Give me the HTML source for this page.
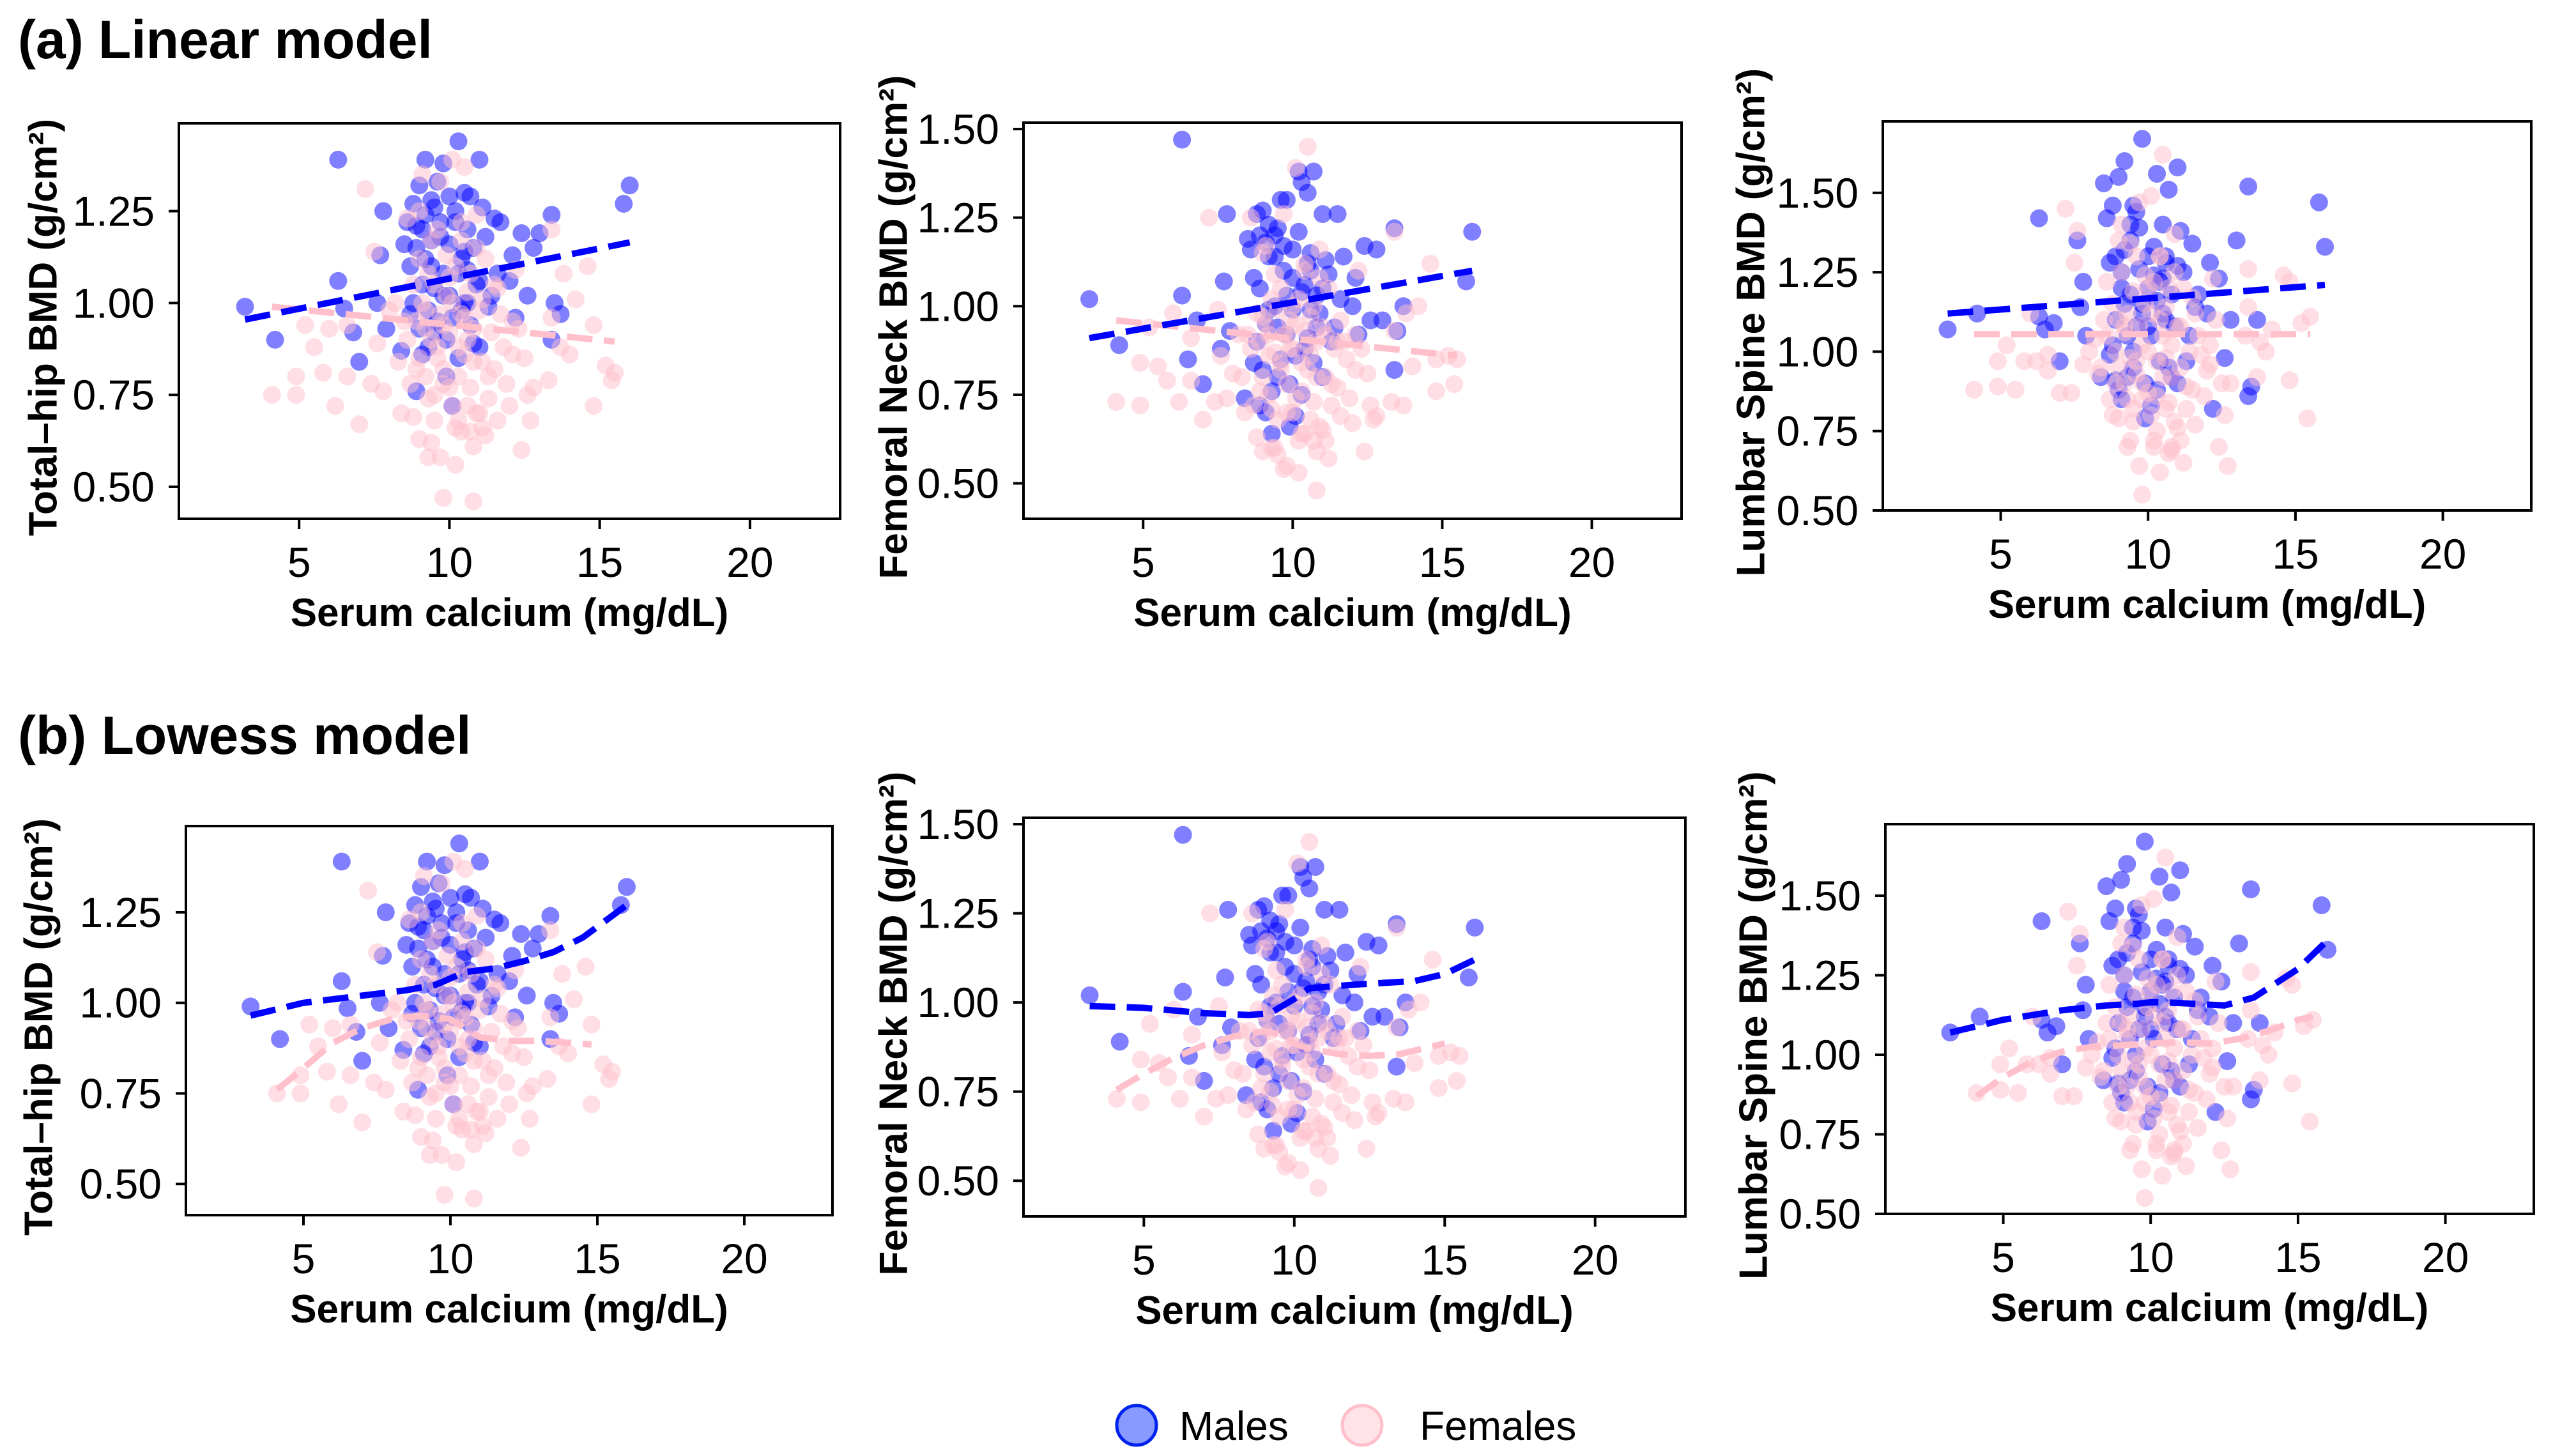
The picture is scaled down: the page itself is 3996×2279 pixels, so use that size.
<!DOCTYPE html>
<html><head><meta charset="utf-8"><style>
html,body{margin:0;padding:0;background:#fff;}
svg{display:block;font-family:"Liberation Sans",Arial,sans-serif;}
</style></head><body>
<svg id="fig" width="3996" height="2279" viewBox="0 0 3996 2279" xmlns="http://www.w3.org/2000/svg">
<rect width="3996" height="2279" fill="#fff"/>
<text x="28" y="91" font-size="84" font-weight="bold">(a) Linear model</text>
<text x="28" y="1180" font-size="84" font-weight="bold">(b) Lowess model</text>
<g id="panels"></g>
<g>
<circle cx="1779" cy="2231" r="31" fill="#8899ff" stroke="#0022ee" stroke-width="5"/>
<text x="1846" y="2254" font-size="64">Males</text>
<circle cx="2132" cy="2231" r="31" fill="#ffe3e8" stroke="#ffc0cb" stroke-width="5"/>
<text x="2222" y="2254" font-size="64">Females</text>
</g>
</svg>
<script>
// shared subject data (serum calcium, BMD by site)
const maleCa = [3.2,4.2,6.3,6.3,6.5,7.0,6.8,7.6,7.8,7.7,7.9,8.4,8.5,8.6,8.7,8.8,8.9,8.9,9.0,9.1,9.1,9.2,9.2,9.3,9.4,9.5,9.5,9.6,9.7,9.8,9.8,9.9,10.0,10.0,10.1,10.2,10.3,10.3,10.4,10.5,10.5,10.6,10.7,10.8,11.0,11.0,11.1,11.3,11.5,11.6,12.1,12.2,12.4,12.6,12.8,13.0,13.4,13.4,13.5,13.7,15.8,16.0,
 8.7,8.8,8.9,9.0,9.1,9.2,9.3,9.4,9.5,9.6,9.7,9.8,9.9,10.0,10.1,10.2,10.3,10.4,10.5,10.6,10.7,10.8,10.9,11.0,11.2,11.4,11.7,12.0,9.4,10.6];
const maleTH = [.99,.90,1.39,1.06,.985,.84,.92,1.00,1.25,1.13,.93,.87,1.16,1.22,.97,1.27,1.21,.76,1.32,1.05,.86,1.39,1.24,.98,1.10,1.26,.92,1.33,1.18,1.38,1.02,.80,1.29,1.02,.72,1.22,1.44,1.08,.98,1.30,1.14,1.00,1.29,.89,1.39,1.06,1.26,.99,1.23,1.08,1.13,.96,1.19,1.02,1.15,1.19,1.24,.90,1.00,.97,1.27,1.32,
 1.10,1.00,1.15,.93,1.20,1.12,.88,1.28,1.04,.95,1.22,1.08,.90,1.16,.96,1.25,.85,1.12,1.00,1.20,.94,1.15,1.05,.88,1.18,1.02,1.22,1.06,1.17,1.09];
const maleFN = [1.02,.89,1.47,1.03,.85,.78,.96,.88,1.26,1.07,.93,.74,1.19,1.16,.84,1.26,1.20,.72,1.27,.95,.70,1.23,1.14,.64,1.00,1.22,.80,1.30,1.10,1.30,.92,.66,1.16,.99,.69,1.38,1.35,1.04,.88,1.32,1.12,.99,1.38,.94,1.26,1.05,1.13,.90,1.26,1.02,1.08,.92,1.17,.96,1.16,.96,1.22,.82,.93,1.00,1.07,1.21,
 1.08,.90,1.05,.82,1.18,.99,.76,1.20,.94,.85,1.17,1.03,.78,1.08,.86,1.21,.75,1.06,.91,1.10,.84,1.03,.98,.80,1.09,.94,1.14,1.00,1.14,1.15];
const maleLS = [1.07,1.12,1.42,1.11,1.07,.97,1.09,1.35,1.22,1.14,1.05,.92,1.53,1.42,.99,1.46,1.30,.91,1.55,1.20,.85,1.60,1.32,1.05,1.18,1.46,.95,1.44,1.39,1.67,1.12,.79,1.30,1.08,.83,1.24,1.56,1.16,.97,1.40,1.23,1.10,1.51,.92,1.58,1.27,1.38,.97,1.34,1.14,1.28,.82,1.23,.98,1.10,1.35,1.52,.86,.89,1.10,1.47,1.33,
 1.28,1.02,1.10,.88,1.25,1.15,.92,1.35,1.00,1.08,1.26,1.15,.90,1.20,1.05,1.33,.88,1.22,1.12,1.30,.95,1.18,1.08,.90,1.25,1.05,1.18,1.12,1.40,1.28];
const femaleCa = [4.1,4.9,4.9,5.2,5.5,5.8,6.0,6.2,6.6,6.6,7.0,7.2,7.4,7.5,7.6,7.8,8.0,8.2,8.4,8.6,8.8,8.9,9.0,9.0,9.1,9.2,9.3,9.3,9.4,9.5,9.5,9.6,9.7,9.7,9.8,9.8,9.9,10.0,10.1,10.1,10.2,10.2,10.3,10.4,10.4,10.5,10.5,10.6,10.7,10.7,10.8,10.8,10.9,11.0,11.1,11.2,11.3,11.5,11.6,11.8,12.0,12.1,12.2,12.4,12.5,12.7,12.8,13.3,13.4,13.4,13.7,13.8,14.0,14.2,14.6,14.8,14.8,15.2,15.4,15.5,
 8.6,8.7,8.8,8.9,9.0,9.1,9.2,9.3,9.4,9.5,9.6,9.7,9.8,9.9,10.0,10.1,10.2,10.3,10.4,10.5,10.6,10.7,10.8,10.9,11.0,11.1,11.2,11.3,11.4,11.5,11.7,11.9,12.1,12.3,9.0,9.4,9.6,10.0,10.3,10.6,10.9,11.1,9.2,9.8,10.4,10.8,8.5,11.6,12.6,8.3];
const femaleTH = [.75,.75,.80,.94,.88,.81,.93,.72,.80,.94,.67,1.31,.78,1.14,.89,.76,.98,1.00,.70,1.23,.69,.82,1.12,.63,1.35,.93,.58,.74,1.17,1.05,.68,.85,1.33,.58,.47,.94,1.13,.77,1.39,1.00,.56,.66,.88,1.17,.65,1.37,.96,.72,1.08,.65,.46,.84,1.24,.70,1.01,.64,.80,1.05,.68,.88,.72,.95,1.09,.60,.85,.68,.77,.79,.96,1.20,.88,1.08,.86,1.01,1.10,.72,.94,.83,.79,.81,
 .90,.78,1.05,.95,.85,1.00,.80,1.08,.90,.75,1.20,.97,.82,1.02,.92,.72,1.10,.80,.97,.86,1.03,.77,.93,.70,.98,.84,1.12,.74,.92,.82,.97,.78,.86,.93,1.25,.62,.88,1.07,.68,.90,1.15,.66,.98,.78,1.22,.61,.95,1.04,.75,.84];
const femaleFN = [.73,.72,.84,.94,.83,.79,.98,.73,.79,.91,.68,1.25,.73,.99,.86,.74,.81,.92,.70,1.25,.63,.76,.97,.59,1.17,.86,.60,.71,1.09,.99,.58,.82,1.26,.54,.55,.92,.88,.70,1.39,.95,.53,.62,.84,1.12,.64,1.45,.89,.68,1.00,.62,.48,.80,1.16,.65,.92,.57,.78,.90,.69,.85,.67,.92,1.10,.59,.81,.68,.69,.73,.93,1.21,.72,.98,.83,1.00,1.12,.76,.85,.86,.78,.85,
 .88,.72,.98,.90,.80,.95,.75,1.02,.87,.68,1.05,.92,.78,.96,.88,.74,1.02,.76,.93,.82,.97,.73,.90,.66,.94,.80,1.05,.72,.88,.77,.90,.74,.82,.88,1.15,.60,.84,1.00,.64,.86,1.08,.62,.92,.70,1.10,.59,.92,.96,.72,.80];
const femaleLS = [.88,.89,.97,1.02,.88,.97,1.12,.97,.99,.94,.87,1.45,.87,1.28,1.38,.96,1.00,1.04,.95,1.22,.80,.90,1.10,.79,1.40,1.08,.70,.85,1.34,1.19,.78,.93,1.47,.64,.55,1.02,1.24,.87,1.49,1.12,.70,.72,.97,1.30,.62,1.62,1.05,.82,1.20,.68,.69,.92,1.37,.76,1.08,.65,.89,1.17,.77,.99,.94,1.02,1.23,.70,.90,.64,.90,1.05,1.14,1.26,.92,1.03,1.00,1.07,1.24,.91,1.22,1.09,.79,1.11,
 1.05,.85,1.15,1.00,.95,1.25,.90,1.12,.98,.82,1.30,1.08,.90,1.15,1.00,.80,1.22,.86,1.10,.92,1.14,.84,1.02,.78,1.08,.95,1.20,.82,1.00,.88,1.05,.86,.96,1.10,1.35,.72,.97,1.20,.75,.98,1.25,.72,1.06,.85,1.30,.70,1.10,1.12,.80,.93];
// fitted lines
const linTH_M_x = [3.2,16], linTH_M_y = [0.955,1.165];
const linTH_F_x = [4.1,15.5], linTH_F_y = [0.99,0.895];
const linFN_M_x = [3.2,16], linFN_M_y = [0.91,1.10];
const linFN_F_x = [4.1,15.5], linFN_F_y = [0.96,0.86];
const linLS_M_x = [3.2,16], linLS_M_y = [1.12,1.21];
const linLS_F_x = [4.1,15.5], linLS_F_y = [1.055,1.055];
const lowTH_M_x = [3.2,5,7,8.5,9.5,10.5,11.5,12.5,13.5,14.5,15.5,16];
const lowTH_M_y = [0.965,1.0,1.02,1.035,1.05,1.085,1.095,1.115,1.14,1.18,1.24,1.27];
const lowTH_F_x = [4.1,5,6,7,8,9,9.5,10,10.5,11,12,13,14,14.8];
const lowTH_F_y = [0.76,0.82,0.89,0.93,0.955,0.965,0.96,0.955,0.93,0.905,0.895,0.895,0.89,0.885];
const lowFN_M_x = [3.2,5,7,8.5,9.2,10,10.5,12,13,14,15,16];
const lowFN_M_y = [0.99,0.985,0.97,0.965,0.97,1.01,1.04,1.05,1.055,1.06,1.08,1.12];
const lowFN_F_x = [4.1,5,6,7,8,9,9.5,10,10.5,11.5,12.5,13.5,14.5,15];
const lowFN_F_y = [0.755,0.80,0.845,0.88,0.905,0.92,0.91,0.885,0.87,0.855,0.85,0.855,0.875,0.885];
const lowLS_M_x = [3.2,5,7,8.5,9.5,10,10.5,11.5,12.5,13.5,15,16];
const lowLS_M_y = [1.07,1.11,1.14,1.155,1.16,1.165,1.165,1.16,1.155,1.18,1.27,1.36];
const lowLS_F_x = [4.1,5,6,7,8,9,10,11,12,13,14,15,15.5];
const lowLS_F_y = [0.87,0.93,0.98,1.01,1.025,1.03,1.035,1.04,1.035,1.05,1.075,1.11,1.12];
const xTicks = [5,10,15,20];
const yTicksHip = [0.50,0.75,1.00,1.25];
const yTicksLS = [0.50,0.75,1.00,1.25,1.50];

const NS = 'http://www.w3.org/2000/svg';
const root = document.getElementById('panels');
function mk(tag, attrs, parent){const e=document.createElementNS(NS,tag);for(const k in attrs)e.setAttribute(k,attrs[k]);parent.appendChild(e);return e;}

const panels = [
 {id:'a-total-hip',box:[280,193,1315,812],yl:[0.413,1.489],yt:yTicksHip,lab:'Total\u2013hip BMD (g/cm\u00b2)',ly:212,my:maleTH,fy:femaleTH,lm:[linTH_M_x,linTH_M_y],lf:[linTH_F_x,linTH_F_y]},
 {id:'a-femoral-neck',box:[1602,192,2632,812],yl:[0.40,1.518],yt:yTicksLS,lab:'Femoral Neck BMD (g/cm\u00b2)',ly:203,my:maleFN,fy:femaleFN,lm:[linFN_M_x,linFN_M_y],lf:[linFN_F_x,linFN_F_y]},
 {id:'a-lumbar-spine',box:[2947,190,3962,799],yl:[0.5,1.725],yt:yTicksLS,lab:'Lumbar Spine BMD (g/cm\u00b2)',ly:206,my:maleLS,fy:femaleLS,lm:[linLS_M_x,linLS_M_y],lf:[linLS_F_x,linLS_F_y]},
 {id:'b-total-hip',box:[291,1293,1303,1902],yl:[0.414,1.488],yt:yTicksHip,lab:'Total\u2013hip BMD (g/cm\u00b2)',ly:230,my:maleTH,fy:femaleTH,lm:[lowTH_M_x,lowTH_M_y],lf:[lowTH_F_x,lowTH_F_y]},
 {id:'b-femoral-neck',box:[1602,1280,2638,1904],yl:[0.40,1.518],yt:yTicksLS,lab:'Femoral Neck BMD (g/cm\u00b2)',ly:203,my:maleFN,fy:femaleFN,lm:[lowFN_M_x,lowFN_M_y],lf:[lowFN_F_x,lowFN_F_y]},
 {id:'b-lumbar-spine',box:[2951,1290,3966,1900],yl:[0.5,1.725],yt:yTicksLS,lab:'Lumbar Spine BMD (g/cm\u00b2)',ly:206,my:maleLS,fy:femaleLS,lm:[lowLS_M_x,lowLS_M_y],lf:[lowLS_F_x,lowLS_F_y]}
];

panels.forEach(p=>{
  const [L,T,R,B]=p.box;
  const xs=v=>L+(v-1)/(23-1)*(R-L);
  const ys=v=>B-(v-p.yl[0])/(p.yl[1]-p.yl[0])*(B-T);
  const g=mk('g',{},root);
  
  
  const clipId='clip-'+p.id;
  const cp=mk('clipPath',{id:clipId},g); mk('rect',{x:L,y:T,width:R-L,height:B-T},cp);
  const pts=mk('g',{'clip-path':'url(#'+clipId+')'},g);
  maleCa.forEach((x,i)=>{const c=mk('circle',{cx:xs(x),cy:ys(p.my[i]),r:14,fill:'#0000ff','fill-opacity':0.5},pts);
    
    });
  femaleCa.forEach((x,i)=>{const c=mk('circle',{cx:xs(x),cy:ys(p.fy[i]),r:14,fill:'#ffc0cb','fill-opacity':0.5},pts);
    
    });
  [[p.lf,'#ffc0cb','female-fit-line'],[p.lm,'#0000ff','male-fit-line']].forEach(([ln,col,nm])=>{
    const d=ln[0].map((x,i)=>(i?'L':'M')+xs(x).toFixed(1)+','+ys(ln[1][i]).toFixed(1)).join(' ');
    const pa=mk('path',{d:d,fill:'none',stroke:col,'stroke-width':10,'stroke-dasharray':'40 18'},pts);
    
    
  });
  const fr=mk('rect',{x:L,y:T,width:R-L,height:B-T,fill:'none',stroke:'#000','stroke-width':4},g);
  
  
  xTicks.forEach(t=>{const x=xs(t);mk('line',{x1:x,y1:B,x2:x,y2:B+16,stroke:'#000','stroke-width':4},g);
    const tx=mk('text',{x:x,y:B+91,'font-size':66,'text-anchor':'middle'},g);tx.textContent=t;
    
    });
  p.yt.forEach(t=>{const y=ys(t);mk('line',{x1:L-16,y1:y,x2:L,y2:y,stroke:'#000','stroke-width':4},g);
    const tx=mk('text',{x:L-38,y:y+23,'font-size':66,'text-anchor':'end'},g);tx.textContent=t.toFixed(2);
    
    });
  const xl=mk('text',{x:(L+R)/2,y:B+168,'font-size':62,'font-weight':'bold','text-anchor':'middle'},g);
  xl.textContent='Serum calcium (mg/dL)';
  
  
  const lx=L-p.ly, cy=(T+B)/2+10;
  const yl=mk('text',{x:lx,y:cy,'font-size':62,'font-weight':'bold','text-anchor':'middle','dominant-baseline':'central',transform:'rotate(-90 '+lx+' '+cy+')'},g);
  yl.textContent=p.lab;
  
  
});
</script>
</body></html>
